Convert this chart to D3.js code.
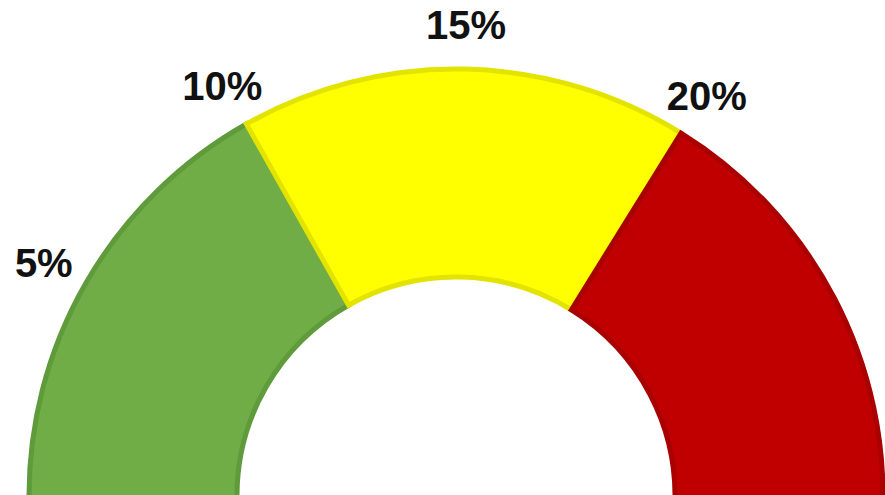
<!DOCTYPE html>
<html>
<head>
<meta charset="utf-8">
<script src="https://cdn.jsdelivr.net/npm/d3@7"></script>
<style>
  html, body { margin: 0; padding: 0; background: #fff; }
  svg { display: block; }
</style>
</head>
<body>
<div id="chart"></div>
<script>
// gauge bands (percent ranges) and their colours
const bandStarts = [0, 10, 20];
const bandEnds = [10, 20, 30];
const bandFills = ['#70ad47', '#ffff00', '#c00000'];
const bandStrokes = ['#5f9a3b', '#e3e300', '#a90000'];
const tickValues = [5, 10, 15, 20];

const width = 885, height = 495;
const cx = 456, cy = 496;
const outerR = 429, innerR = 217;

const svg = d3.select('#chart')
    .append('svg')
    .attr('width', width)
    .attr('height', height);

// percent -> angle (degrees from top); the dial runs a touch past horizontal on the right
const angleDeg = d3.scaleLinear()
    .domain([0, 30])
    .range([-90.6, 93]);
const angle = v => angleDeg(v) * Math.PI / 180;

const arc = d3.arc()
    .innerRadius(innerR + 2)
    .outerRadius(outerR - 2);

const g = svg.append('g')
    .attr('transform', `translate(${cx},${cy})`);

g.selectAll('path.band')
    .data(bandStarts.map((s, i) => ({ s, e: bandEnds[i], i })))
    .enter()
    .append('path')
    .attr('class', 'band')
    .attr('d', d => arc({ startAngle: angle(d.s), endAngle: angle(d.e) }))
    .attr('fill', d => bandFills[d.i])
    .attr('stroke', d => bandStrokes[d.i])
    .attr('stroke-width', 5)
    .attr('stroke-linejoin', 'miter');

// tick labels around the outside
const labelR = 476;
g.selectAll('text.tick')
    .data(tickValues)
    .enter()
    .append('text')
    .attr('class', 'tick')
    .attr('x', d => labelR * Math.sin(angle(d)))
    .attr('y', d => -labelR * Math.cos(angle(d)) + 5)
    .attr('text-anchor', 'middle')
    .attr('dominant-baseline', 'central')
    .attr('font-family', 'Liberation Sans, Arial, sans-serif')
    .attr('font-weight', 'bold')
    .attr('font-size', 40)
    .attr('fill', '#111')
    .text(d => d + '%');
</script>
</body>
</html>
